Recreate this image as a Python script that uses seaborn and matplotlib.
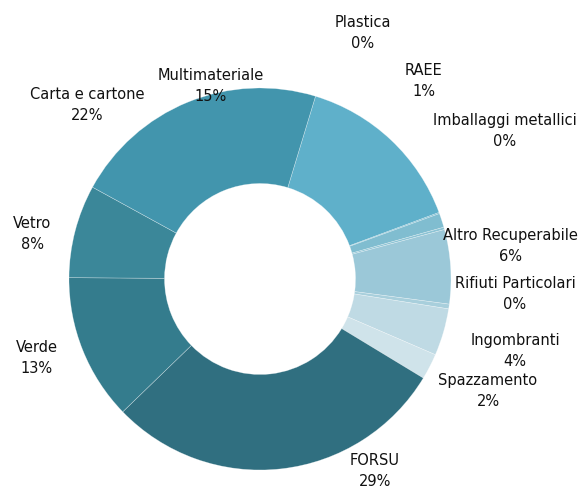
import seaborn as sns
import matplotlib.pyplot as plt

# dati (quota % per frazione)
categorie = ["Multimateriale", "Plastica", "RAEE", "Imballaggi metallici",
             "Altro Recuperabile", "Rifiuti Particolari", "Ingombranti",
             "Spazzamento", "FORSU", "Verde", "Vetro", "Carta e cartone"]
valori = [14.7, 0.1, 1.2, 0.2, 6.3, 0.4, 4.0, 2.2, 29.2, 12.4, 7.9, 21.8]
etichette_pct = ["15%", "0%", "1%", "0%", "6%", "0%", "4%", "2%",
                 "29%", "13%", "8%", "22%"]
colori = ["#5fb0ca", "#6fb6cc", "#80bdd0", "#8cc3d4", "#9bc8d8", "#a8cfdc",
          "#bfdae4", "#cfe3ea", "#306f80", "#347c8d", "#3b8799", "#4295ad"]

# posizione (pixel) del centro dell'etichetta
pos_etichette = [(211, 86), (363, 33), (424, 81), (505, 131),
                 (510, 246), (515, 294), (515, 351), (488, 391),
                 (375, 471), (37, 358), (32, 234), (87, 105)]

sns.set_theme(style="white")
plt.rcParams['font.family'] = ['DejaVu Sans']

W, H = 582, 486
fig = plt.figure(figsize=(W / 100, H / 100), dpi=100)
ax = fig.add_axes([69 / W, 1 - 470 / H, 382 / W, 382 / H])

ax.pie(valori, colors=colori, startangle=73.1, counterclock=False,
       radius=1, wedgeprops=dict(width=0.5, edgecolor=(1, 1, 1, 0.45),
                                 linewidth=0.4))
ax.set_xlim(-1, 1)
ax.set_ylim(-1, 1)
ax.set_aspect("equal")
ax.axis("off")

for nome, pct, (x, y) in zip(categorie, etichette_pct, pos_etichette):
    fig.text(x / W, 1 - y / H, nome + "\n" + pct, ha="center", va="center",
             fontsize=10.5, color="#111111", linespacing=1.45)

fig.savefig("out.png", dpi=100)
